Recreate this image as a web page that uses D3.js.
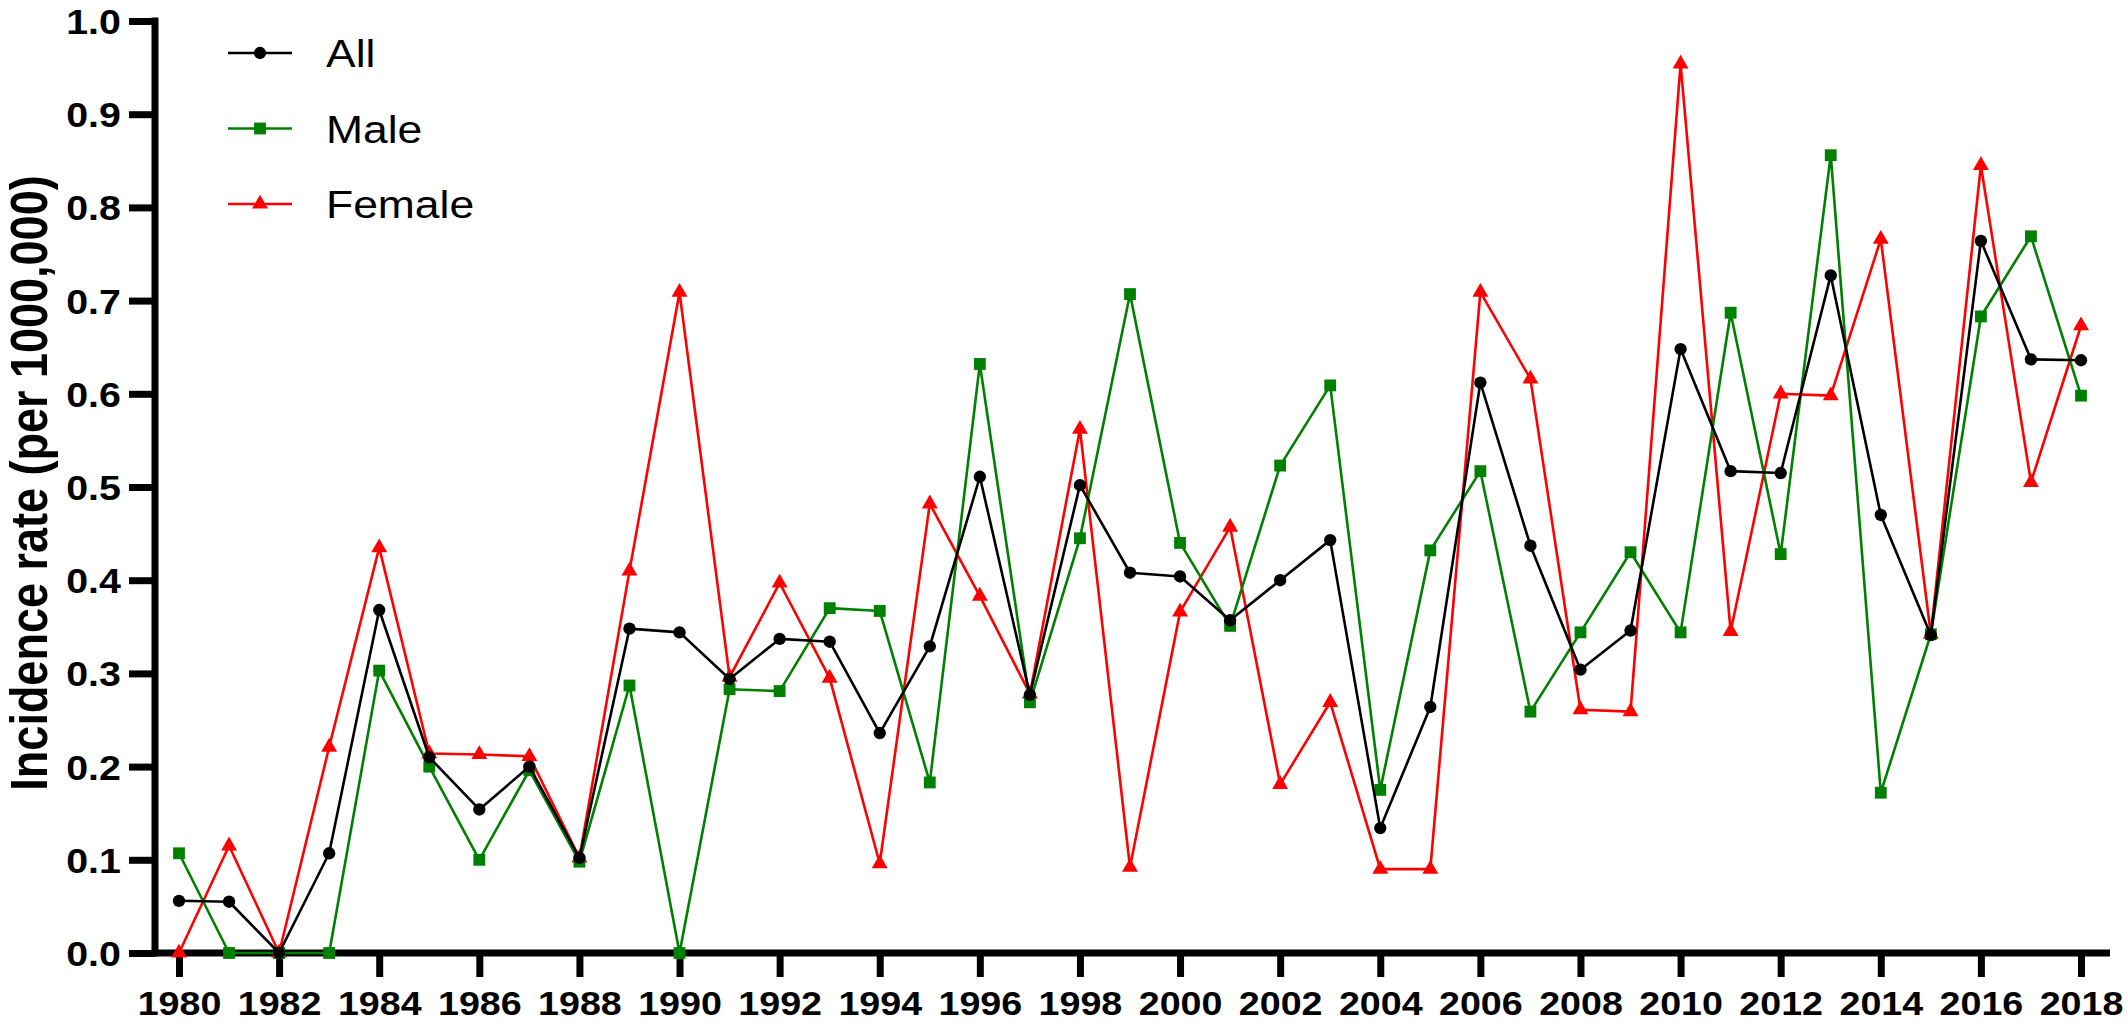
<!DOCTYPE html>
<html>
<head>
<meta charset="utf-8">
<script src="https://cdn.jsdelivr.net/npm/d3@7"></script>
<style>
	body { margin: 0; background: #fff; }
	svg { display: block; }
	text { font-family: "Liberation Sans", Arial, sans-serif; }
</style>
</head>
<body>
<svg id="chart"></svg>
<script>
// годы и значения рядов
let years = d3.range(1980, 2019);
let allValues = [0.056, 0.055, 0, 0.107, 0.368, 0.21, 0.154, 0.2, 0.102, 0.348,
	0.344, 0.294, 0.337, 0.334, 0.236, 0.329, 0.511, 0.277, 0.502, 0.408,
	0.404, 0.357, 0.4, 0.443, 0.134, 0.264, 0.612, 0.437, 0.304, 0.346,
	0.648, 0.517, 0.515, 0.727, 0.47, 0.341, 0.764, 0.637, 0.636];
let maleValues = [0.107, 0, 0, 0, 0.303, 0.2, 0.1, 0.196, 0.098, 0.287,
	0, 0.283, 0.281, 0.37, 0.367, 0.183, 0.632, 0.269, 0.445, 0.707,
	0.44, 0.351, 0.523, 0.609, 0.175, 0.432, 0.517, 0.259, 0.344, 0.43,
	0.344, 0.687, 0.428, 0.856, 0.172, 0.342, 0.683, 0.769, 0.598];
let femaleValues = [0, 0.115, 0, 0.221, 0.435, 0.214, 0.213, 0.211, 0.102, 0.41,
	0.709, 0.296, 0.397, 0.295, 0.096, 0.482, 0.383, 0.278, 0.562, 0.092,
	0.366, 0.457, 0.181, 0.269, 0.09, 0.09, 0.709, 0.616, 0.261, 0.259,
	0.954, 0.345, 0.6, 0.598, 0.766, 0.342, 0.845, 0.505, 0.673];
let seriesNames = ["All", "Male", "Female"];
let xTicks = d3.range(1980, 2019, 2);
let yTicks = d3.range(0, 11).map(d => d / 10);
let yTitle = "Incidence rate (per 1000,000)";

let width = 2128;
let height = 1027;
let stretch = 1.14; // картинка растянута по горизонтали

let series = [
	{name: seriesNames[0], values: allValues, color: "#000000", shape: d3.symbolCircle, size: 120},
	{name: seriesNames[1], values: maleValues, color: "#008000", shape: d3.symbolSquare, size: 140},
	{name: seriesNames[2], values: femaleValues, color: "#ff0000", shape: d3.symbolTriangle, size: 110}
];

let svg = d3.select("#chart")
	.attr("width", width)
	.attr("height", height);

svg.append("rect").attr("width", width).attr("height", height).attr("fill", "#fff");

let scaleX = d3.scaleLinear().domain([1980, 2018]).range([179, 2081]);
let scaleY = d3.scaleLinear().domain([0, 1]).range([953, 21]);
let axisLeftX = 155;
let axisW = 7;

// ось OY
let gy = svg.append("g")
	.attr("transform", `translate(${axisLeftX}, 0)`)
	.call(d3.axisLeft(scaleY).tickValues(yTicks).tickFormat(d3.format(".1f")).tickSize(26).tickSizeOuter(0).tickPadding(4));
gy.select(".domain").remove();
gy.selectAll(".tick line").attr("stroke", "#000").attr("stroke-width", axisW);
gy.selectAll(".tick text")
	.attr("fill", "#000")
	.style("font-size", "34.5px")
	.style("font-weight", "bold")
	.attr("dy", "0.36em")
	.attr("transform", `scale(${stretch},1)`);

// ось OX
let gx = svg.append("g")
	.attr("transform", `translate(0, ${scaleY(0)})`)
	.call(d3.axisBottom(scaleX).tickValues(xTicks).tickFormat(d3.format("d")).tickSize(24).tickSizeOuter(0).tickPadding(15));
gx.select(".domain").remove();
gx.selectAll(".tick line").attr("stroke", "#000").attr("stroke-width", axisW);
gx.selectAll(".tick text")
	.attr("fill", "#000")
	.style("font-size", "33px")
	.style("font-weight", "bold")
	.attr("transform", `scale(${stretch},1)`);

// линии осей
svg.append("line")
	.attr("x1", axisLeftX).attr("x2", axisLeftX)
	.attr("y1", scaleY(1) - axisW / 2).attr("y2", scaleY(0) + axisW / 2)
	.attr("stroke", "#000").attr("stroke-width", axisW);
svg.append("line")
	.attr("x1", axisLeftX - axisW / 2).attr("x2", scaleX(2018) + 29)
	.attr("y1", scaleY(0)).attr("y2", scaleY(0))
	.attr("stroke", "#000").attr("stroke-width", axisW);

// подпись оси OY
svg.append("text")
	.attr("transform", `translate(47, ${(scaleY(0) + scaleY(1)) / 2 - 4}) scale(${stretch},1) rotate(-90)`)
	.attr("text-anchor", "middle")
	.style("font-size", "45px")
	.style("font-weight", "bold")
	.text(yTitle);

// ряды: сначала Female, потом Male, сверху All
let line = d3.line()
	.x((d, i) => scaleX(years[i]))
	.y(d => scaleY(d));

for (let k = series.length - 1; k >= 0; k--) {
	let s = series[k];
	svg.append("path")
		.datum(s.values)
		.attr("fill", "none")
		.attr("stroke", s.color)
		.attr("stroke-width", 2.6)
		.attr("stroke-linejoin", "round")
		.attr("d", line);
	svg.selectAll(".dot" + k)
		.data(s.values)
		.enter()
		.append("path")
		.attr("d", d3.symbol().type(s.shape).size(s.size))
		.attr("transform", (d, i) => `translate(${scaleX(years[i])}, ${scaleY(d)})`)
		.attr("fill", s.color);
}

// легенда
let legend = svg.append("g").attr("transform", "translate(228, 53)");
series.forEach(function(s, i) {
	let g = legend.append("g").attr("transform", `translate(0, ${i * 75.5})`);
	g.append("line")
		.attr("x1", 0).attr("x2", 64)
		.attr("stroke", s.color)
		.attr("stroke-width", 2.6);
	g.append("path")
		.attr("d", d3.symbol().type(s.shape).size(s.size))
		.attr("transform", "translate(32, 0)")
		.attr("fill", s.color);
	g.append("text")
		.attr("x", 98 / stretch)
		.attr("dy", "0.36em")
		.attr("transform", `scale(${stretch},1)`)
		.style("font-size", "39px")
		.text(s.name);
});
</script>
</body>
</html>
